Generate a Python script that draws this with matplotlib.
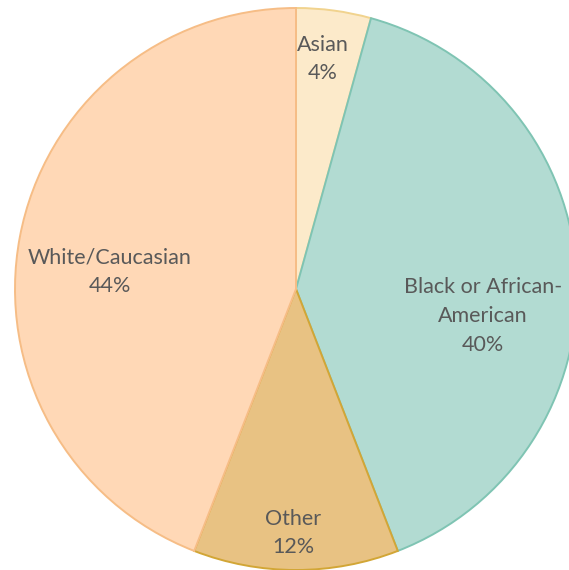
import matplotlib
matplotlib.use("Agg")
import matplotlib.pyplot as plt

categories = ["Asian", "Black or African-\nAmerican", "Other", "White/Caucasian"]
values = [4.3, 39.8, 11.8, 44.1]
fill_colors = ["#FCEACA", "#B2DBD2", "#E8C283", "#FFD8B6"]
edge_colors = ["#F1D38E", "#7FC4B3", "#D2A636", "#F6BD86"]

W, H = 569, 570
fig = plt.figure(figsize=(W / 100, H / 100), dpi=100)
ax = fig.add_axes([0, 0, 1, 1])

cx, cy, r = 296, H - 289, 281
wedges, _ = ax.pie(values, startangle=90, counterclock=False,
                   colors=fill_colors, center=(cx, cy), radius=r, frame=True,
                   wedgeprops=dict(linewidth=1.4))
for w, ec in zip(wedges, edge_colors):
    w.set_edgecolor(ec)
ax.set_xlim(0, W)
ax.set_ylim(0, H)
ax.set_aspect("equal", adjustable="datalim")
ax.axis("off")

label_pos = [(323, 59), (483, 316), (293, 533), (110, 272)]
for cat, v, (x, y) in zip(categories, values, label_pos):
    ax.text(x, H - y, f"{cat}\n{round(v)}%", ha="center", va="center",
            fontsize=15.5, color="#595959", family="Lato", linespacing=1.55)

fig.savefig("out.png", dpi=100)
